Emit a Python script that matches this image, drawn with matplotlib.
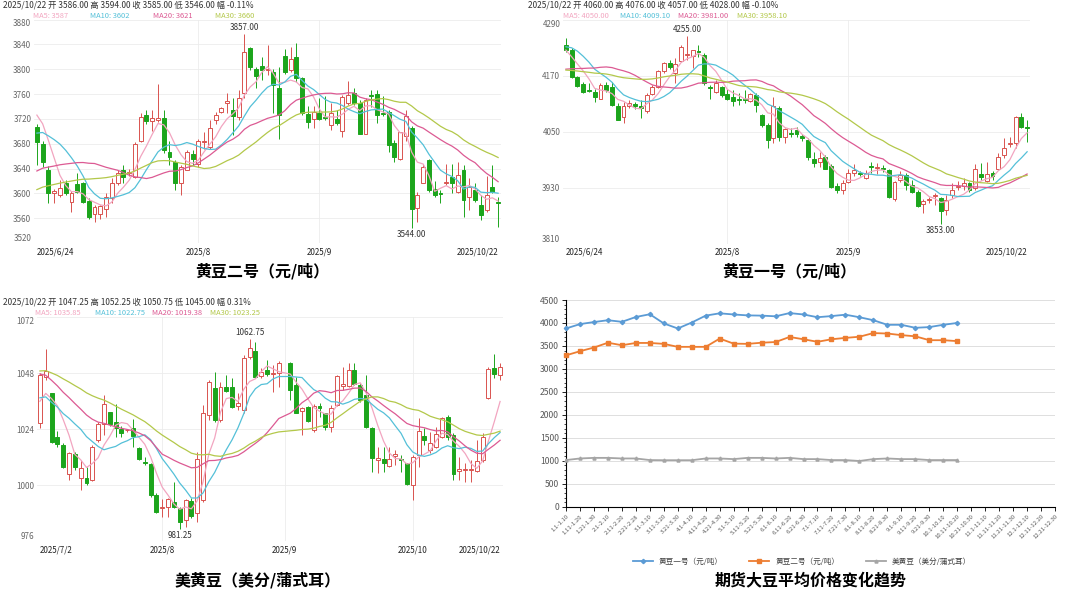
import numpy as np
import pandas as pd
import matplotlib
matplotlib.use('Agg')
import matplotlib.pyplot as plt
from matplotlib.patches import Rectangle
from matplotlib.ticker import MultipleLocator
from matplotlib.lines import Line2D

plt.rcParams['font.family'] = ['Noto Sans CJK SC', 'DejaVu Sans']

# ---- 黄豆二号 daily K-line, 2025/6/24 - 2025/10/22 (81 sessions) ----
d2_open = [3707, 3680, 3637, 3600, 3598, 3616, 3586, 3615, 3616, 3588, 3567, 3566, 3575, 3592, 3616, 3638, 3633,
           3627, 3685, 3726, 3716, 3718, 3722, 3667, 3651, 3616, 3638, 3664, 3648, 3682, 3675, 3718, 3731, 3745,
           3735, 3723, 3761, 3834, 3800, 3805, 3798, 3796, 3769, 3821, 3799, 3819, 3785, 3728, 3719, 3730, 3723,
           3710, 3720, 3701, 3746, 3762, 3745, 3696, 3759, 3760, 3729, 3731, 3681, 3656, 3692, 3705, 3576, 3616,
           3653, 3607, 3601, 3616, 3627, 3602, 3637, 3594, 3605, 3581, 3573, 3611, 3586]
d2_high = [3712, 3684, 3644, 3607, 3622, 3621, 3603, 3632, 3618, 3592, 3581, 3581, 3600, 3624, 3638, 3645, 3640,
           3683, 3729, 3734, 3735, 3776, 3735, 3685, 3653, 3646, 3670, 3670, 3688, 3699, 3718, 3731, 3739, 3762,
           3753, 3766, 3857, 3836, 3804, 3820, 3839, 3800, 3804, 3832, 3836, 3842, 3788, 3741, 3741, 3753, 3757,
           3746, 3734, 3758, 3781, 3769, 3750, 3754, 3767, 3766, 3756, 3734, 3686, 3699, 3734, 3708, 3602, 3648,
           3656, 3620, 3605, 3648, 3647, 3651, 3645, 3624, 3616, 3597, 3628, 3646, 3594]
d2_low = [3645, 3643, 3585, 3585, 3594, 3597, 3570, 3601, 3585, 3559, 3554, 3559, 3562, 3584, 3613, 3616, 3628,
          3624, 3683, 3712, 3700, 3715, 3665, 3645, 3605, 3597, 3637, 3645, 3643, 3672, 3672, 3712, 3729, 3729,
          3694, 3718, 3753, 3799, 3769, 3782, 3790, 3729, 3688, 3793, 3796, 3780, 3726, 3705, 3705, 3718, 3718,
          3702, 3710, 3691, 3742, 3742, 3695, 3695, 3739, 3713, 3724, 3667, 3651, 3653, 3685, 3544, 3554, 3616,
          3602, 3594, 3585, 3613, 3600, 3600, 3562, 3573, 3586, 3557, 3570, 3600, 3546]
d2_close = [3682, 3650, 3601, 3604, 3608, 3600, 3600, 3602, 3586, 3562, 3578, 3579, 3594, 3617, 3632, 3627, 3635,
            3680, 3723, 3716, 3721, 3722, 3670, 3659, 3617, 3643, 3667, 3655, 3685, 3684, 3705, 3726, 3738, 3748,
            3724, 3753, 3828, 3804, 3789, 3799, 3800, 3774, 3726, 3796, 3816, 3785, 3729, 3715, 3731, 3719, 3721,
            3730, 3713, 3755, 3758, 3745, 3695, 3751, 3757, 3726, 3727, 3678, 3658, 3698, 3724, 3574, 3597, 3643,
            3605, 3597, 3599, 3618, 3616, 3629, 3590, 3611, 3589, 3565, 3597, 3602, 3585]
# closes of the 29 sessions before the window (only feed the moving averages)
d2_prior = [3530, 3535, 3540, 3545, 3548, 3550, 3552, 3550, 3555, 3555, 3560, 3565, 3570, 3568, 3575, 3578, 3580,
            3582, 3585, 3587, 3640, 3655, 3665, 3680, 3700, 3720, 3735, 3745, 3748]

# ---- 黄豆一号 daily K-line, 2025/6/24 - 2025/10/22 ----
d1_open = [4236, 4225, 4168, 4152, 4140, 4136, 4121, 4150, 4146, 4104, 4082, 4104, 4109, 4105, 4095, 4131, 4146,
           4179, 4198, 4175, 4202, 4215, 4212, 4222, 4214, 4146, 4134, 4145, 4131, 4124, 4119, 4120, 4116, 4129,
           4086, 4064, 4036, 4100, 4039, 4047, 4054, 4041, 4032, 3991, 3986, 3996, 3976, 3934, 3925, 3943, 3961,
           3962, 3950, 3976, 3973, 3972, 3968, 3905, 3946, 3957, 3936, 3921, 3895, 3903, 3912, 3907, 3882, 3914,
           3931, 3934, 3939, 3929, 3959, 3945, 3961, 3971, 4000, 4024, 4026, 4081, 4060]
d1_high = [4250, 4229, 4169, 4157, 4154, 4141, 4155, 4157, 4157, 4111, 4114, 4118, 4114, 4118, 4132, 4150, 4182,
           4200, 4204, 4207, 4236, 4255, 4226, 4236, 4218, 4150, 4161, 4148, 4141, 4139, 4132, 4139, 4132, 4132,
           4088, 4068, 4125, 4104, 4057, 4057, 4059, 4046, 4036, 4007, 4007, 4000, 3981, 3939, 3946, 3971, 3981,
           3966, 3968, 3986, 3982, 3979, 3969, 3945, 3966, 3962, 3946, 3925, 3905, 3909, 3919, 3911, 3914, 3939,
           3945, 3950, 3943, 3981, 3982, 3984, 3966, 4004, 4036, 4039, 4084, 4091, 4076]
d1_low = [4221, 4164, 4145, 4132, 4134, 4114, 4119, 4136, 4105, 4074, 4068, 4100, 4098, 4079, 4089, 4129, 4143,
          4175, 4184, 4154, 4200, 4204, 4186, 4211, 4150, 4119, 4132, 4125, 4118, 4104, 4107, 4111, 4114, 4093,
          4061, 4014, 4025, 4029, 4026, 4039, 4039, 4029, 3989, 3975, 3975, 3969, 3929, 3918, 3916, 3939, 3954,
          3954, 3948, 3962, 3959, 3964, 3907, 3902, 3943, 3925, 3919, 3889, 3875, 3898, 3893, 3853, 3871, 3907,
          3926, 3925, 3921, 3925, 3946, 3943, 3946, 3968, 3993, 4018, 4014, 4057, 4028]
d1_close = [4226, 4168, 4148, 4136, 4138, 4124, 4150, 4139, 4107, 4076, 4104, 4111, 4104, 4100, 4129, 4146, 4179,
            4198, 4188, 4196, 4231, 4217, 4224, 4220, 4154, 4144, 4155, 4129, 4121, 4116, 4117, 4118, 4131, 4107,
            4064, 4032, 4104, 4039, 4055, 4045, 4045, 4036, 3996, 3982, 3993, 3971, 3932, 3925, 3941, 3962, 3968,
            3959, 3962, 3974, 3975, 3970, 3909, 3943, 3957, 3936, 3921, 3891, 3902, 3905, 3914, 3879, 3903, 3926,
            3933, 3939, 3925, 3971, 3952, 3959, 3954, 3996, 4014, 4026, 4082, 4059, 4057]
d1_prior = [4190, 4185, 4180, 4178, 4175, 4172, 4175, 4178, 4172, 4175, 4150, 4140, 4130, 4125, 4120, 4118, 4125,
            4135, 4150, 4167, 4190, 4220, 4245, 4265, 4275, 4240, 4225, 4210, 4224]

# ---- 美黄豆 daily K-line, 2025/7/2 - 2025/10/22 (slot 42 = 2025/9/1, no session) ----
us_open = [1026.6, 1046.3, 1039.4, 1020.6, 1017.3, 1004.9, 1013.4, 1003.0, 1003.0, 1002.3, 1019.4, 1026.3, 1031.3,
           1027.3, 1024.0, 1023.6, 1024.4, 1015.9, 1010.0, 1009.1, 995.9, 990.1, 990.6, 993.0, 990.1, 985.1, 993.3,
           988.0, 993.7, 1030.1, 1041.6, 1028.0, 1042.0, 1042.0, 1034.0, 1032.3, 1054.9, 1057.7, 1046.9, 1049.4,
           1047.7, 1048.3, None, 1052.3, 1043.0, 1032.0, 1033.7, 1023.7, 1034.0, 1030.9, 1024.9, 1034.4, 1042.7,
           1042.6, 1049.4, 1043.0, 1038.7, 1024.4, 1010.9, 1011.1, 1008.3, 1012.7, 1011.4, 1009.4, 1000.1, 1013.0,
           1021.1, 1015.1, 1016.6, 1020.9, 1029.1, 1021.6, 1006.3, 1006.4, 1006.6, 1006.3, 1010.9, 1037.3, 1050.1,
           1047.25]
us_high = [1048.0, 1058.3, 1039.7, 1023.4, 1018.0, 1014.4, 1014.4, 1010.9, 1008.0, 1017.3, 1027.3, 1038.7, 1031.6,
           1034.9, 1025.4, 1024.3, 1028.3, 1016.6, 1012.3, 1009.7, 996.6, 994.0, 994.4, 1001.6, 990.9, 994.0, 994.4,
           1014.4, 1034.4, 1045.1, 1048.7, 1044.4, 1047.3, 1045.9, 1039.4, 1055.9, 1062.75, 1061.6, 1050.1, 1053.7,
           1051.6, 1053.3, None, 1053.0, 1046.6, 1033.7, 1034.0, 1034.9, 1035.4, 1031.1, 1034.4, 1047.3, 1050.9,
           1052.6, 1052.6, 1043.7, 1047.3, 1025.1, 1016.6, 1016.6, 1016.6, 1015.1, 1013.0, 1009.7, 1013.0, 1028.7,
           1024.4, 1023.0, 1025.1, 1029.4, 1030.1, 1022.3, 1012.3, 1009.4, 1010.9, 1019.4, 1022.3, 1050.9, 1056.3,
           1052.25]
us_low = [1024.4, 1045.0, 1018.0, 1016.6, 1007.3, 1002.3, 1006.6, 998.0, 1000.1, 1002.0, 1018.7, 1021.6, 1025.4,
          1020.6, 1020.9, 1023.0, 1016.6, 1010.9, 1008.7, 995.1, 988.0, 986.6, 986.6, 990.1, 981.25, 982.3, 985.9,
          984.4, 993.0, 1028.0, 1027.3, 1027.3, 1040.1, 1033.0, 1032.3, 1030.9, 1054.0, 1045.9, 1045.9, 1047.0,
          1040.1, 1042.3, None, 1036.6, 1030.9, 1021.6, 1027.3, 1023.0, 1029.4, 1023.7, 1023.0, 1034.0, 1040.9,
          1042.0, 1043.0, 1035.9, 1024.4, 1005.9, 1005.1, 1005.9, 1008.0, 1008.7, 1005.9, 1000.1, 993.7, 1008.0,
          1017.3, 1014.0, 1015.9, 1020.1, 1019.4, 1002.3, 1002.3, 1001.6, 1001.6, 1005.9, 1010.1, 1036.9, 1045.9,
          1045.0]
us_close = [1047.3, 1049.0, 1018.7, 1017.7, 1008.0, 1014.0, 1007.7, 1007.3, 1001.1, 1016.6, 1026.3, 1034.9, 1026.3,
            1024.4, 1022.6, 1023.8, 1021.1, 1011.1, 1009.4, 995.9, 988.7, 990.9, 994.0, 990.6, 984.4, 993.7, 986.9,
            1011.1, 1030.9, 1044.4, 1028.0, 1042.0, 1040.6, 1033.4, 1035.4, 1054.4, 1058.7, 1046.3, 1048.7, 1047.7,
            1048.3, 1052.6, None, 1040.9, 1031.1, 1033.0, 1027.7, 1034.0, 1033.0, 1024.9, 1033.0, 1046.9, 1043.3,
            1049.4, 1043.4, 1036.6, 1025.1, 1011.6, 1011.6, 1009.7, 1011.1, 1013.3, 1010.9, 1000.6, 1012.3, 1023.4,
            1019.4, 1018.0, 1022.0, 1028.7, 1020.9, 1004.9, 1006.9, 1006.8, 1007.1, 1010.6, 1020.9, 1049.7, 1047.7,
            1050.75]
us_prior = [1045, 1048, 1050, 1052, 1055, 1053, 1050, 1052, 1054, 1057, 1060, 1062, 1065, 1063, 1060, 1058, 1055,
            1052, 1053, 1051, 1045, 1042, 1038, 1036, 1034, 1032, 1030, 1033, 1037.7]

# ---- 期货大豆平均价格 (ten-day averages) ----
periods = ['1.1-1.10', '1.11-1.20', '1.21-1.30', '2.1-2.10', '2.11-2.20', '2.21-2.28', '3.1-3.10', '3.11-3.20',
           '3.21-3.30', '4.1-4.10', '4.11-4.20', '4.21-4.30', '5.1-5.10', '5.11-5.20', '5.21-5.30', '6.1-6.10',
           '6.11-6.20', '6.21-6.30', '7.1-7.10', '7.11-7.20', '7.21-7.30', '8.1-8.10', '8.11-8.20', '8.21-8.30',
           '9.1-9.10', '9.11-9.20', '9.21-9.30', '10.1-10.10', '10.11-10.20', '10.21-10.30', '11.1-11.10',
           '11.11-11.20', '11.21-11.30', '12.1-12.10', '12.11-12.20', '12.21-12.30']
bean1_avg = [3880, 3975, 4020, 4060, 4025, 4130, 4190, 3990, 3880, 4010, 4160, 4210, 4185, 4165, 4160, 4145, 4215,
             4185, 4125, 4150, 4180, 4125, 4060, 3960, 3960, 3895, 3910, 3960, 4000]
bean2_avg = [3295, 3385, 3465, 3570, 3515, 3565, 3565, 3545, 3480, 3480, 3480, 3660, 3550, 3545, 3570, 3585, 3695,
             3645, 3590, 3645, 3675, 3700, 3780, 3770, 3735, 3710, 3625, 3625, 3605]
us_avg = [1015, 1050, 1063, 1063, 1050, 1050, 1015, 1012, 1012, 1012, 1050, 1050, 1036, 1063, 1063, 1050, 1063,
          1036, 1036, 1015, 1015, 995, 1036, 1050, 1036, 1036, 1015, 1015, 1015]

UP = '#d9534f'
DOWN = '#1ca51c'
MA_COLORS = [(5, '#f2a5c0'), (10, '#54c0d8'), (20, '#dc5a93'), (30, '#b3c84a')]
W, H = 1080, 595

fig = plt.figure(figsize=(W / 100, H / 100), dpi=100)


def box(left, top, right, bottom):
    return [left / W, 1 - bottom / H, (right - left) / W, (bottom - top) / H]


def ftext(x, y, s, **kw):
    fig.text(x / W, 1 - y / H, s, **kw)


def kline(rect, o, h, l, c, prior, yticks, xticks, xlabels, vgrid):
    ax = fig.add_axes(rect)
    o, h, l, c = [np.array([np.nan if v is None else v for v in a], dtype=float) for a in (o, h, l, c)]
    x = np.arange(len(c))
    ok = ~np.isnan(c)
    span = yticks[-1] - yticks[0]
    for v in yticks:
        ax.axhline(v, color='#ececec', lw=0.6, zorder=0)
    for v in vgrid:
        ax.axvline(v, color='#ececec', lw=0.6, zorder=0)
    for i in x[ok]:
        up = c[i] >= o[i]
        col = UP if up else DOWN
        ax.vlines(i, l[i], h[i], color=col, lw=0.7, zorder=2)
        lo, hi = min(o[i], c[i]), max(o[i], c[i])
        ax.add_patch(Rectangle((i - 0.34, lo), 0.68, max(hi - lo, span * 0.003),
                               fc='white' if up else col, ec=col, lw=0.7, zorder=3))
    # moving averages from the closes (window continues from the prior sessions)
    s = pd.Series(np.concatenate([prior, c[ok]]))
    for n, col in MA_COLORS:
        m = s.rolling(n).mean().values[len(prior):]
        ax.plot(x[ok], m, color=col, lw=0.9, zorder=4)
    ih, il = np.nanargmax(h), np.nanargmin(l)
    ax.annotate(f'{h[ih]:.2f}', (ih, h[ih]), xytext=(0, 1.5), textcoords='offset points',
                ha='center', va='bottom', fontsize=5.8, color='#333333')
    ax.annotate(f'{l[il]:.2f}', (il, l[il]), xytext=(0, -1.5), textcoords='offset points',
                ha='center', va='top', fontsize=5.8, color='#333333')
    ax.set_xlim(-0.5, len(c) - 0.5)
    ax.set_ylim(yticks[0], yticks[-1])
    ax.set_yticks(yticks)
    ax.set_yticklabels([str(v) for v in yticks])
    ylab = ax.get_yticklabels()
    ylab[0].set_va('bottom')
    ylab[-1].set_va('top')
    ax.set_xticks(xticks)
    ax.set_xticklabels(xlabels)
    xl = ax.get_xticklabels()
    xl[0].set_ha('left')
    xl[-1].set_ha('right')
    ax.tick_params(axis='y', length=0, pad=2, labelsize=5.8, labelcolor='#666666')
    ax.tick_params(axis='x', length=0, pad=3, labelsize=5.8, labelcolor='#222222')
    for sp in ax.spines.values():
        sp.set_visible(False)
    return ax


def header(x, y, date, o, h, c, l, pct, mas, ma_x):
    ftext(x, y, f'{date} 开 {o} 高 {h} 收 {c} 低 {l} 幅 {pct}', fontsize=6.0, color='#333333', va='center')
    for (n, col), v, mx in zip(MA_COLORS, mas, ma_x):
        ftext(mx, y + 11, f'MA{n}: {v}', fontsize=5.4, color=col, va='center')


# top-left: 黄豆二号
kline(box(34, 19.5, 501, 243), d2_open, d2_high, d2_low, d2_close, d2_prior,
      list(range(3520, 3881, 40)), [0, 28, 49, 80], ['2025/6/24', '2025/8', '2025/9', '2025/10/22'], [28, 49])
header(3, 5, '2025/10/22', '3586.00', '3594.00', '3585.00', '3546.00', '-0.11%',
       ['3587', '3602', '3621', '3660'], [33, 90, 153, 215])
ftext(262, 271, '黄豆二号（元/吨）', fontsize=11.5, fontweight='bold', ha='center', va='center')

# top-right: 黄豆一号
kline(box(563, 19.7, 1030, 243.7), d1_open, d1_high, d1_low, d1_close, d1_prior,
      list(range(3810, 4291, 120)), [0, 28, 49, 80], ['2025/6/24', '2025/8', '2025/9', '2025/10/22'], [28, 49])
header(528, 5, '2025/10/22', '4060.00', '4076.00', '4057.00', '4028.00', '-0.10%',
       ['4050.00', '4009.10', '3981.00', '3958.10'], [563, 620, 678, 737])
ftext(789, 271, '黄豆一号（元/吨）', fontsize=11.5, fontweight='bold', ha='center', va='center')

# bottom-left: 美黄豆
kline(box(37, 317.3, 503, 541.3), us_open, us_high, us_low, us_close, us_prior,
      list(range(976, 1073, 24)), [0, 21, 42, 64, 79], ['2025/7/2', '2025/8', '2025/9', '2025/10', '2025/10/22'],
      [21, 42, 64])
header(3, 302, '2025/10/22', '1047.25', '1052.25', '1050.75', '1045.00', '0.31%',
       ['1035.85', '1022.75', '1019.38', '1023.25'], [35, 95, 152, 210])
ftext(258, 580, '美黄豆（美分/蒲式耳）', fontsize=11.5, fontweight='bold', ha='center', va='center')

# bottom-right: ten-day average line chart
ax = fig.add_axes(box(566, 300, 1055, 506.7))
xp = np.arange(len(periods))
series = [(bean1_avg, '#5b9bd5', 'D', '黄豆一号（元/吨）'),
          (bean2_avg, '#ed7d31', 's', '黄豆二号（元/吨）'),
          (us_avg, '#a5a5a5', '^', '美黄豆（美分/蒲式耳）')]
handles = []
for vals, col, mk, lab in series:
    ax.plot(xp[:len(vals)], vals, color=col, lw=1.3, marker=mk, ms=2.2, clip_on=False, zorder=3)
    handles.append(Line2D([], [], color=col, lw=1.3, marker=mk, ms=2.2, label=lab))
ax.set_xlim(0, len(periods) - 1)
ax.set_ylim(0, 4500)
ax.set_yticks(range(0, 4501, 500))
ax.yaxis.set_minor_locator(MultipleLocator(100))
ax.grid(axis='y', color='#d9d9d9', lw=0.6, zorder=0)
ax.set_xticks(xp)
ax.set_xticklabels(periods, rotation=45, ha='right', rotation_mode='anchor')
ax.tick_params(axis='x', length=3, width=0.6, labelsize=4.3, labelcolor='#595959', pad=2)
ax.tick_params(axis='y', which='major', length=3, width=0.6, labelsize=6.2, labelcolor='#595959', pad=2)
ax.tick_params(axis='y', which='minor', length=1.5, width=0.5)
for side in ('top', 'right'):
    ax.spines[side].set_visible(False)
for side in ('left', 'bottom'):
    ax.spines[side].set_linewidth(0.8)
    ax.spines[side].set_color('black')
fig.legend(handles=handles, loc='center', bbox_to_anchor=(802 / W, 1 - 562 / H), ncol=3, frameon=False,
           fontsize=5.5, handlelength=2.6, columnspacing=3.5, labelcolor='#404040')
ftext(811, 580, '期货大豆平均价格变化趋势', fontsize=11.5, fontweight='bold', ha='center', va='center')

fig.savefig('out.png', dpi=100, facecolor='white')
